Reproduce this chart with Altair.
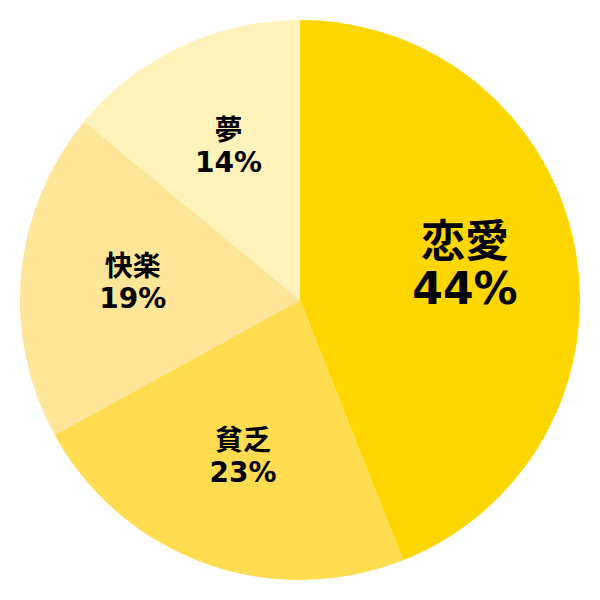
import altair as alt
import pandas as pd

categories = ["恋愛", "貧乏", "快楽", "夢"]
values = [44, 23, 19, 14]
colors = ["#FFD700", "#FFDC50", "#FFE597", "#FFF3BB"]
big = [True, False, False, False]

df = pd.DataFrame({
    "cat": categories,
    "val": values,
    "ord": list(range(len(categories))),
    "pct": [f"{v}%" for v in values],
})
df["name_big"] = [c if b else "" for c, b in zip(categories, big)]
df["pct_big"] = [p if b else "" for p, b in zip(df["pct"], big)]
df["name_small"] = [c if not b else "" for c, b in zip(categories, big)]
df["pct_small"] = [p if not b else "" for p, b in zip(df["pct"], big)]

FONT = "DejaVu Sans, Noto Sans CJK JP"

base = alt.Chart(df).encode(
    theta=alt.Theta("val:Q", stack=True),
    order=alt.Order("ord:Q"),
)

arcs = base.mark_arc(radius=280).encode(
    color=alt.Color("cat:N", scale=alt.Scale(domain=categories, range=colors), legend=None)
)

def txt(field, size, dy):
    return base.mark_text(radius=168, fontSize=size, fontWeight="bold", font=FONT,
                          baseline="middle", align="center", dy=dy, color="black").encode(
        text=alt.Text(f"{field}:N")
    )

chart = alt.layer(
    arcs,
    txt("name_big", 44, -25),
    txt("pct_big", 44, 22),
    txt("name_small", 28, -16),
    txt("pct_small", 28, 16),
).properties(width=584, height=584, padding=0).configure_view(stroke=None)

chart.save("out.html", embed_options={"renderer": "svg", "actions": False})
